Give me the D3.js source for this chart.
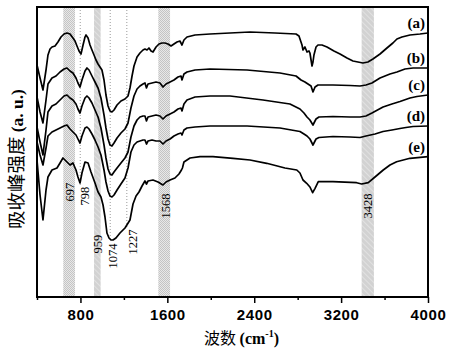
<!DOCTYPE html>
<html><head><meta charset="utf-8">
<script src="https://cdn.jsdelivr.net/npm/d3@7"></script>
<style>body{margin:0;background:#fff}svg{display:block}</style>
</head><body><svg id="c" width="449" height="351"></svg>
<script>
// ---------- data ----------
const xDomain = [400, 4000];
const yDomain = [0, 291];
const majorTicks = [800, 1600, 2400, 3200, 4000];
const minorTicks = [400, 1200, 2000, 2800, 3600];
const seriesNames = ["(a)", "(b)", "(c)", "(d)", "(e)"];

const seriesA = [[400,232],[428,219],[455,207],[483,227],[501,242],[520,248],[538,250],[566,251],[593,255],[621,260],[649,263],[676,264],[704,263],[731,259],[750,256],[768,251],[787,246],[805,243],[824,252],[842,260],[851,262],[870,259],[888,252],[906,247],[925,242],[943,237],[962,233],[980,230],[998,227],[1017,217],[1035,202],[1054,191],[1072,186],[1090,185],[1109,187],[1137,192],[1173,196],[1210,198],[1238,201],[1256,209],[1275,221],[1293,231],[1321,240],[1348,244],[1376,247],[1394,248],[1413,247],[1431,249],[1450,246],[1468,245],[1496,250],[1523,253],[1551,254],[1578,254],[1606,253],[1634,251],[1661,253],[1689,255],[1716,256],[1735,252],[1753,257],[1781,260],[1855,262],[1993,263],[2177,264],[2361,265],[2591,264],[2785,263],[2812,261],[2840,252],[2849,247],[2867,250],[2886,245],[2904,246],[2913,244],[2932,231],[2941,235],[2950,242],[2969,250],[2987,252],[3024,252],[3070,250],[3134,246],[3190,243],[3254,239],[3309,236],[3355,235],[3401,234],[3447,235],[3493,238],[3558,243],[3622,249],[3677,254],[3714,258],[3760,260],[3834,262],[3926,263],[4000,264]];

const seriesB = [[400,200],[428,185],[455,174],[483,197],[501,213],[538,219],[575,221],[612,225],[649,228],[676,229],[704,226],[731,224],[759,219],[777,214],[796,210],[814,217],[842,226],[860,229],[879,227],[906,221],[934,215],[962,209],[989,199],[1017,182],[1035,169],[1054,158],[1072,152],[1090,151],[1109,154],[1137,159],[1173,164],[1210,168],[1238,174],[1265,189],[1293,201],[1321,208],[1348,211],[1376,213],[1394,214],[1408,209],[1422,213],[1459,214],[1496,215],[1532,214],[1560,210],[1588,213],[1625,215],[1661,217],[1698,220],[1726,221],[1735,217],[1753,223],[1781,225],[1855,227],[1993,228],[2334,227],[2637,224],[2785,221],[2831,217],[2867,215],[2895,213],[2923,211],[2941,205],[2960,210],[2987,212],[3125,212],[3282,211.5],[3374,211],[3429,212],[3484,214],[3558,219],[3650,223],[3714,225],[3788,228],[3862,229],[4000,229]];

const seriesC = [[400,170],[428,155],[455,142],[483,167],[501,185],[538,191],[575,193],[612,197],[649,201],[676,202],[704,199],[731,197],[759,193],[777,188],[796,184],[814,191],[842,199],[860,201],[879,199],[906,194],[934,187],[962,180],[989,169],[1017,152],[1035,139],[1054,128],[1072,123],[1090,122],[1109,125],[1137,129],[1173,134],[1210,139],[1238,145],[1265,160],[1293,171],[1321,177],[1348,180],[1376,181],[1394,181],[1408,176],[1422,180],[1459,181],[1496,182],[1532,181],[1560,178],[1588,181],[1625,183],[1661,185],[1698,188],[1726,189],[1735,186],[1753,193],[1781,197],[1855,200],[1993,201],[2177,201],[2481,197],[2729,193],[2821,188],[2858,184],[2886,180],[2913,177],[2941,172],[2969,178],[2996,180],[3125,180.5],[3282,180],[3374,180],[3429,181],[3484,184],[3586,190],[3668,193],[3742,195.5],[3834,199],[3898,200.5],[4000,202]];

const seriesD = [[400,155],[428,142],[455,132],[483,149],[501,161],[538,165],[575,167],[612,169],[649,171],[676,172],[704,168],[731,165],[759,162],[777,158],[796,154],[814,161],[842,169],[860,170],[879,168],[906,163],[934,157],[962,150],[989,142],[1017,127],[1035,115],[1054,106],[1072,101],[1090,100],[1109,102],[1137,107],[1173,113],[1210,119],[1238,129],[1265,145],[1293,152],[1321,155],[1348,156],[1376,157],[1394,157],[1408,153],[1422,156],[1459,157],[1496,156],[1532,156],[1560,153],[1588,156],[1625,158],[1661,161],[1698,163],[1726,164],[1735,162],[1753,167],[1781,169],[1855,170],[1993,171],[2334,171],[2637,169],[2821,165.5],[2858,163],[2886,161],[2913,158],[2941,152],[2969,158],[2996,159.5],[3125,160.5],[3282,160],[3374,159.5],[3429,161],[3512,163],[3586,165.5],[3668,167],[3742,168.5],[3769,169],[3797,169.5],[3862,170.5],[4000,171]];

const seriesE = [[400,137],[428,102],[455,77],[483,107],[501,120],[538,127],[584,129],[612,134],[639,139],[676,135],[704,132],[731,134],[759,127],[777,120],[796,114],[814,124],[842,135],[870,134],[897,125],[934,114],[962,105],[989,100],[1008,92],[1026,80],[1044,64],[1063,59],[1081,57],[1100,57],[1127,59],[1164,64],[1210,69],[1256,77],[1284,93],[1312,101],[1339,105],[1367,111],[1394,116],[1408,113],[1422,116],[1468,117],[1514,115],[1560,112],[1588,115],[1625,117],[1670,119],[1707,123],[1730,127],[1739,129],[1753,135],[1809,139],[1901,140.3],[2020,140.3],[2205,138.7],[2361,137],[2515,133.7],[2683,129],[2792,127],[2821,124],[2849,117],[2883,113.7],[2913,110],[2938,104.3],[2960,108.7],[2990,115.3],[3125,115.3],[3343,114.3],[3389,113],[3450,114.3],[3512,120],[3588,127],[3650,132],[3711,135.3],[3834,138.7],[4000,140.3]];

const bandFrom = [642, 925, 1517, 3389];
const bandTo   = [750, 986, 1625, 3502];
const bandKind = ["dots", "hatch", "dots", "hatch"];
const markerLines = [798, 1074, 1227];
const peakLabels = ["697", "798", "959", "1074", "1227", "1568", "3428"];
const peakWn = [697, 798, 959, 1074, 1227, 1568, 3428];

// ---------- layout ----------
const M = {left: 37, right: 428, top: 7, bottom: 297};
const svg = d3.select("#c");
const x = d3.scaleLinear().domain(xDomain).range([M.left, M.right]);
const y = d3.scaleLinear().domain(yDomain).range([M.bottom, M.top - 1]);

const defs = svg.append("defs");
const pd = defs.append("pattern").attr("id", "dots").attr("width", 2).attr("height", 2).attr("patternUnits", "userSpaceOnUse");
pd.append("rect").attr("width", 2).attr("height", 2).attr("fill", "#e8e8e8");
pd.append("rect").attr("width", 1).attr("height", 1).attr("fill", "#c4c4c4");
pd.append("rect").attr("x", 1).attr("y", 1).attr("width", 1).attr("height", 1).attr("fill", "#c4c4c4");
const ph = defs.append("pattern").attr("id", "hatch").attr("width", 4).attr("height", 4).attr("patternUnits", "userSpaceOnUse").attr("patternTransform", "rotate(-45)");
ph.append("rect").attr("width", 4).attr("height", 4).attr("fill", "#d2d2d2");
ph.append("line").attr("x1", 0).attr("y1", 0).attr("x2", 0).attr("y2", 4).attr("stroke", "#ececec").attr("stroke-width", 1.2);
defs.append("clipPath").attr("id", "clip").append("rect")
  .attr("x", M.left).attr("y", M.top).attr("width", M.right - M.left).attr("height", M.bottom - M.top);

// bands
svg.append("g").selectAll("rect").data(bandFrom.map((f, i) => ({f, t: bandTo[i], k: bandKind[i]})))
  .join("rect")
  .attr("x", d => x(d.f)).attr("width", d => x(d.t) - x(d.f))
  .attr("y", M.top).attr("height", M.bottom - M.top)
  .attr("fill", d => `url(#${d.k})`);

// dotted marker lines
const lineEnds = [186, 240, 229];
svg.append("g").selectAll("line").data(markerLines).join("line")
  .attr("x1", d => x(d)).attr("x2", d => x(d))
  .attr("y1", M.top).attr("y2", (d, i) => lineEnds[i])
  .attr("stroke", "#9a9a9a").attr("stroke-width", 1).attr("stroke-dasharray", "1,2");

// curves
const allSeries = [seriesA, seriesB, seriesC, seriesD, seriesE];
const line = d3.line().x(d => x(d[0])).y(d => y(d[1]));
svg.append("g").attr("clip-path", "url(#clip)").selectAll("path").data(allSeries).join("path")
  .attr("d", line).attr("fill", "none").attr("stroke", "#000").attr("stroke-width", 1.7)
  .attr("stroke-linejoin", "round");

// series labels
svg.append("g").selectAll("text").data(allSeries).join("text")
  .attr("x", M.right - 3).attr("y", d => y(d[d.length - 1][1]) - 5)
  .attr("text-anchor", "end")
  .attr("font-family", "'Liberation Serif', serif").attr("font-weight", "bold").attr("font-size", 15)
  .text((d, i) => seriesNames[i]);

// peak labels (rotated)
const labelPos = [[0, 192], [4, 196], [0, 244], [2, 256], [6, 242], [2, 206], [2, 206]];
svg.append("g").selectAll("text").data(peakLabels).join("text")
  .attr("transform", (d, i) => `translate(${x(peakWn[i]) + labelPos[i][0]},${labelPos[i][1]}) rotate(-90)`)
  .attr("text-anchor", "middle").attr("dy", "0.35em")
  .attr("font-family", "'Liberation Serif', serif").attr("font-size", 12.5)
  .text(d => d);

// frame
svg.append("rect").attr("x", M.left).attr("y", M.top).attr("width", M.right - M.left).attr("height", M.bottom - M.top)
  .attr("fill", "none").attr("stroke", "#000").attr("stroke-width", 2);

// axes
const gMaj = svg.append("g").attr("transform", `translate(0,${M.bottom})`)
  .call(d3.axisBottom(x).tickValues(majorTicks).tickSize(6).tickFormat(d3.format("d")));
gMaj.select(".domain").remove();
gMaj.selectAll("line").attr("stroke-width", 1.5);
gMaj.selectAll("text").attr("font-family", "'Liberation Sans', Arial, sans-serif").attr("font-weight", "bold")
  .attr("font-size", 15).attr("letter-spacing", 0.6).attr("dy", "0.9em").attr("fill", "#000");
const gMin = svg.append("g").attr("transform", `translate(0,${M.bottom})`)
  .call(d3.axisBottom(x).tickValues(minorTicks).tickSize(3).tickFormat(""));
gMin.select(".domain").remove();
gMin.selectAll("line").attr("stroke-width", 1.5);

// axis titles
const xt = svg.append("text").attr("x", (M.left + M.right) / 2 + 9).attr("y", 344).attr("text-anchor", "middle");
xt.append("tspan").attr("font-family", "'Noto Sans CJK SC', sans-serif").attr("font-size", 16).text("波数 ");
xt.append("tspan").attr("font-family", "'Liberation Serif', serif").attr("font-weight", "bold").attr("font-size", 16).text("(cm");
xt.append("tspan").attr("font-family", "'Liberation Serif', serif").attr("font-weight", "bold").attr("font-size", 10).attr("dy", -7).text("-1");
xt.append("tspan").attr("font-family", "'Liberation Serif', serif").attr("font-weight", "bold").attr("font-size", 16).attr("dy", 7).text(")");

const yt = svg.append("text").attr("transform", `translate(23,${(M.top + M.bottom) / 2 + 7}) rotate(-90)`).attr("text-anchor", "middle");
yt.append("tspan").attr("font-family", "'Noto Sans CJK SC', sans-serif").attr("font-size", 18.5).text("吸收峰强度 ");
yt.append("tspan").attr("font-family", "'Liberation Serif', serif").attr("font-weight", "bold").attr("font-size", 17.5).text("(a. u.)");
</script>
</body></html>
